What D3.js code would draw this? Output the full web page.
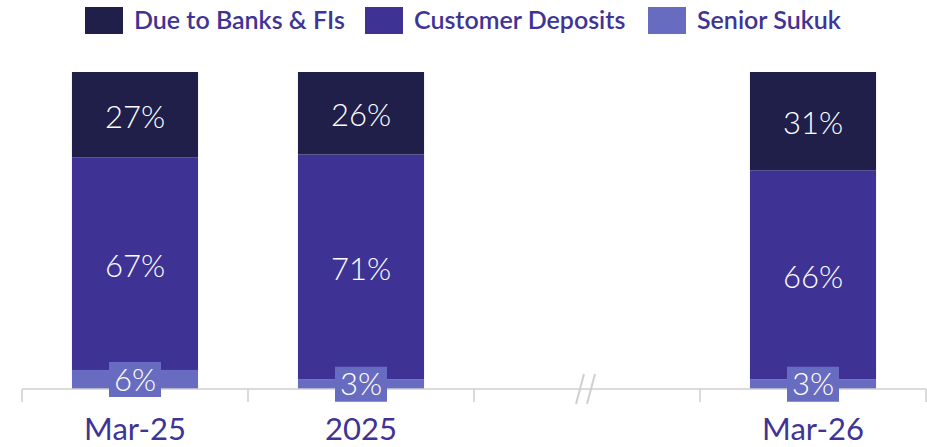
<!DOCTYPE html>
<html>
<head>
<meta charset="utf-8">
<script src="https://cdn.jsdelivr.net/npm/d3@7"></script>
<style>
  body { margin: 0; background: #ffffff; }
  svg { display: block; font-family: Lato, "Open Sans", sans-serif; }
</style>
</head>
<body>
<div id="chart"></div>
<script>
// Data
var periods = ["Mar-25", "2025", "gap", "Mar-26"];
var seriesNames = ["Senior Sukuk", "Customer Deposits", "Due to Banks & FIs"];
var seniorSukuk = [6, 3, null, 3];
var customerDeposits = [67, 71, null, 66];
var dueToBanks = [27, 26, null, 31];
var legendOrder = ["Due to Banks & FIs", "Customer Deposits", "Senior Sukuk"];

var colors = {
  "Due to Banks & FIs": "#1f1f4a",
  "Customer Deposits": "#3e3395",
  "Senior Sukuk": "#676cc0"
};
var textPurple = "#3f3496";

var width = 927, height = 447;
var margin = {top: 72, right: 1, bottom: 58, left: 22};

var svg = d3.select("#chart").append("svg")
  .attr("width", width)
  .attr("height", height);

// build the stacked rows (skip the empty break slot)
var rows = periods.map(function(p, i) {
  return {period: p, "Senior Sukuk": seniorSukuk[i], "Customer Deposits": customerDeposits[i], "Due to Banks & FIs": dueToBanks[i]};
}).filter(function(d) { return d.period !== "gap"; });

var stack = d3.stack().keys(seriesNames);
var layers = stack(rows);

var x = d3.scaleBand()
  .domain(periods)
  .range([margin.left, width - margin.right])
  .paddingInner(0)
  .paddingOuter(0);

var y = d3.scaleLinear()
  .domain([0, 100])
  .range([height - margin.bottom, margin.top]);

var barWidth = x.bandwidth() * 0.558;

// bars
var g = svg.append("g");
layers.forEach(function(layer) {
  g.selectAll(null)
    .data(layer)
    .enter()
    .append("rect")
    .attr("x", function(d) { return x(d.data.period) + (x.bandwidth() - barWidth) / 2; })
    .attr("y", function(d) { return y(d[1]); })
    .attr("width", barWidth)
    .attr("height", function(d) { return y(d[0]) - y(d[1]); })
    .attr("fill", colors[layer.key]);
});

// axis line and ticks at the band edges
var axisY = y(0);
var edges = periods.map(function(p) { return x(p); }).concat([x.range()[1]]);
svg.append("line")
  .attr("x1", x.range()[0]).attr("x2", x.range()[1])
  .attr("y1", axisY).attr("y2", axisY)
  .attr("stroke", "#cfcfcf").attr("stroke-width", 1.5);
svg.selectAll(".tick")
  .data(edges)
  .enter()
  .append("line")
  .attr("class", "tick")
  .attr("x1", function(d) { return d; }).attr("x2", function(d) { return d; })
  .attr("y1", axisY).attr("y2", axisY + 13)
  .attr("stroke", "#cfcfcf").attr("stroke-width", 1.5);

// break marks in the empty slot
var gapX = x("gap") + x.bandwidth() / 2 + 0;
[-8, 3].forEach(function(dx) {
  svg.append("line")
    .attr("x1", gapX + dx - 3).attr("y1", axisY + 15)
    .attr("x2", gapX + dx + 5).attr("y2", axisY - 15)
    .attr("stroke", "#cfcfcf").attr("stroke-width", 2);
});

// category labels
svg.selectAll(".cat")
  .data(periods.filter(function(p) { return p !== "gap"; }))
  .enter()
  .append("text")
  .attr("class", "cat")
  .attr("x", function(d) { return x(d) + x.bandwidth() / 2; })
  .attr("y", 440)
  .attr("text-anchor", "middle")
  .attr("fill", textPurple)
  .style("font-size", "31px")
  .text(function(d) { return d; });

// value labels
layers.forEach(function(layer) {
  var isSukuk = layer.key === "Senior Sukuk";
  var lab = svg.selectAll(null)
    .data(layer)
    .enter()
    .append("g")
    .attr("transform", function(d) {
      return "translate(" + (x(d.data.period) + x.bandwidth() / 2) + "," + ((y(d[0]) + y(d[1])) / 2) + ")";
    });
  if (isSukuk) {
    lab.append("rect")
      .attr("x", -26).attr("y", -17.5)
      .attr("width", 52).attr("height", 35)
      .attr("fill", colors[layer.key]);
  }
  lab.append("text")
    .attr("text-anchor", "middle")
    .attr("dy", isSukuk ? "0.36em" : "0.42em")
    .attr("fill", "#ffffff")
    .style("font-size", "31px")
    .style("font-weight", 300)
    .text(function(d) { return (d[1] - d[0]) + "%"; });
});

// legend
var legendX = [85, 365, 648];
var legend = svg.selectAll(".legend")
  .data(legendOrder)
  .enter()
  .append("g")
  .attr("class", "legend")
  .attr("transform", function(d, i) { return "translate(" + legendX[i] + ",7)"; });
legend.append("rect")
  .attr("width", 38).attr("height", 27)
  .attr("fill", function(d) { return colors[d]; });
legend.append("text")
  .attr("x", 49).attr("y", 22)
  .attr("fill", textPurple)
  .style("font-size", "25px")
  .style("font-weight", 600)
  .text(function(d) { return d; });
</script>
</body>
</html>
